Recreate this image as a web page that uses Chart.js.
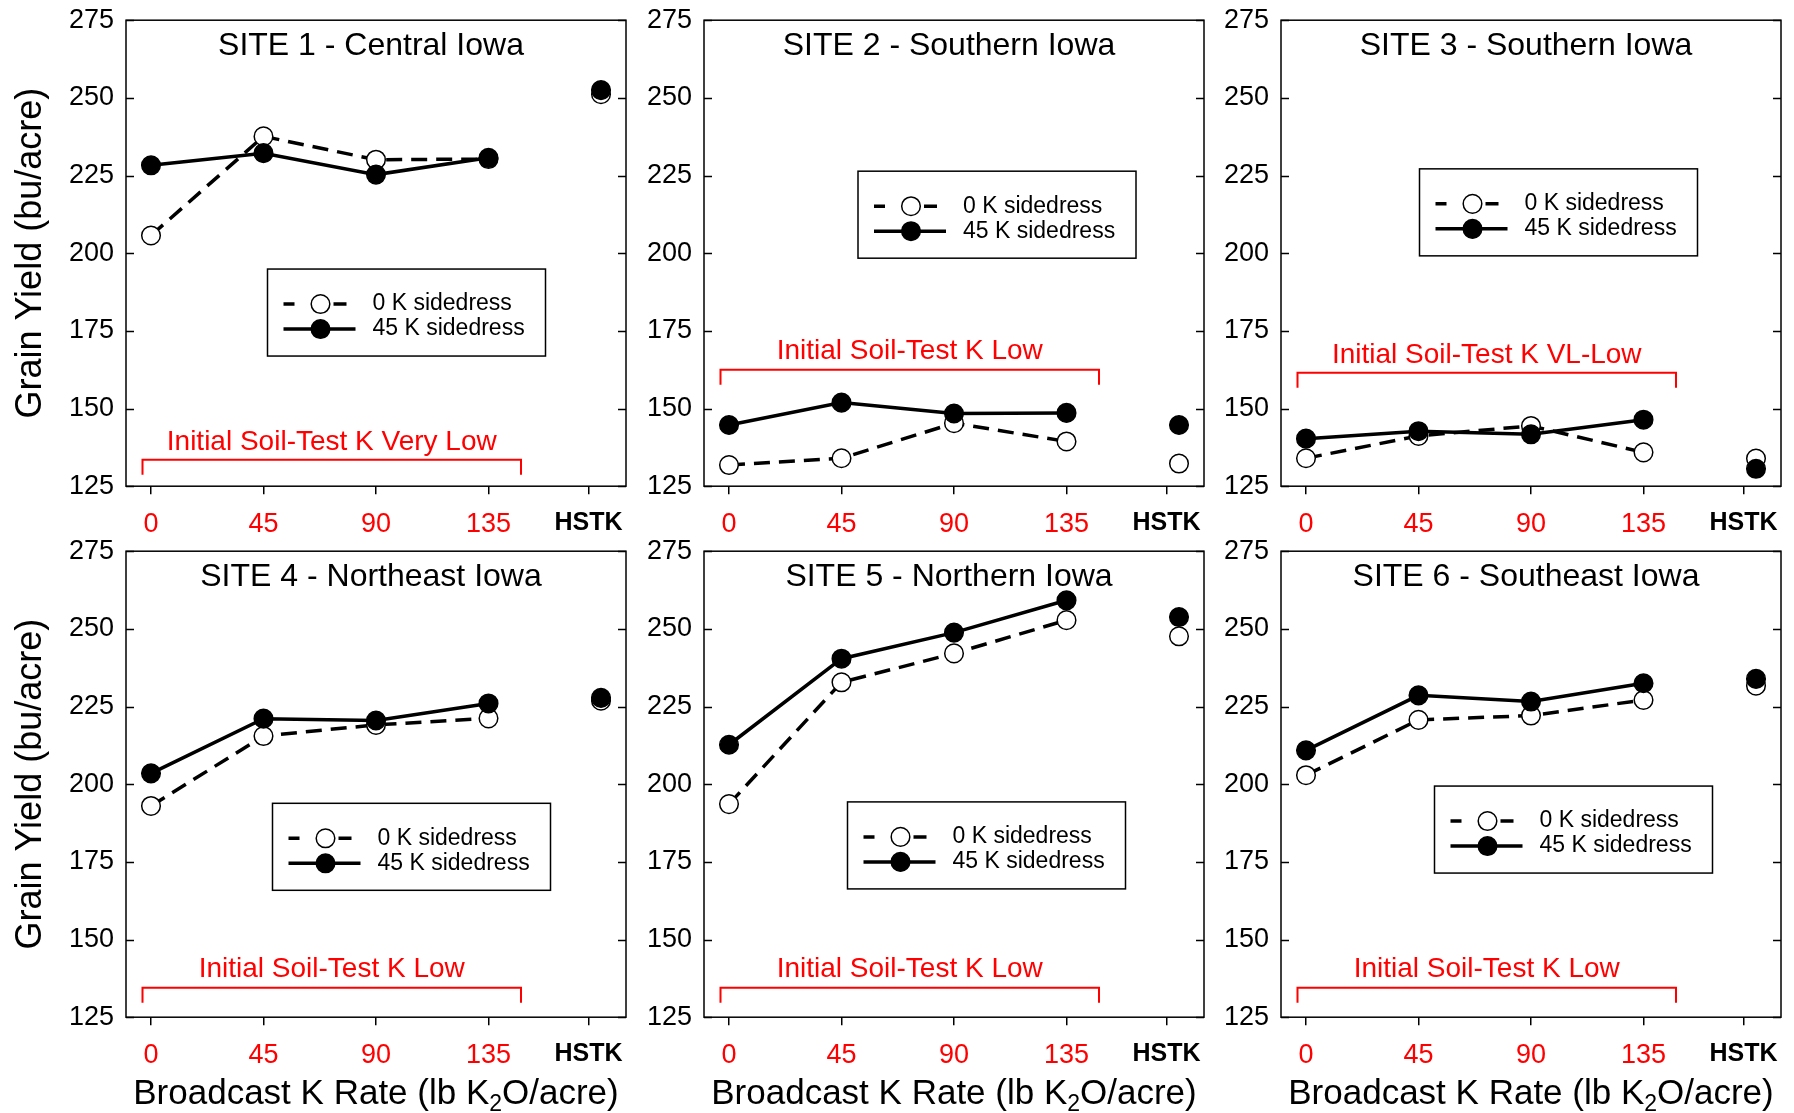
<!DOCTYPE html>
<html>
<head>
<meta charset="utf-8">
<script src="https://cdn.jsdelivr.net/npm/chart.js@4.4.1/dist/chart.umd.min.js"></script>
<style>
  html, body { margin: 0; padding: 0; background: #fff; overflow: hidden; }
  #wrap { position: relative; width: 1794px; height: 1113px; overflow: hidden; }
  canvas { position: absolute; }
</style>
</head>
<body>
<div id="wrap"></div>
<script>
// ---- data ----
const rates = [0, 45, 90, 135];
const hstkX = 180;                       // where the HSTK points sit
const xTickValues = [0, 45, 90, 135, 175];
const xTickLabels = ["0", "45", "90", "135", "HSTK"];
const yTickValues = [125, 150, 175, 200, 225, 250, 275];

const siteTitles = [
  "SITE 1 - Central Iowa", "SITE 2 - Southern Iowa", "SITE 3 - Southern Iowa",
  "SITE 4 - Northeast Iowa", "SITE 5 - Northern Iowa", "SITE 6 - Southeast Iowa"
];
const soilTestLabels = [
  "Initial Soil-Test K Very Low", "Initial Soil-Test K Low", "Initial Soil-Test K VL-Low",
  "Initial Soil-Test K Low", "Initial Soil-Test K Low", "Initial Soil-Test K Low"
];
const bracketLevel = [133.5, 162.5, 161.5, 134.5, 134.5, 134.5];

const site1_0K = [205.7, 237.6, 230.1, 230.3], site1_45K = [228.3, 232.2, 225.3, 230.7];
const site2_0K = [131.8, 134.0, 145.3, 139.4], site2_45K = [144.7, 151.9, 148.4, 148.6];
const site3_0K = [134.0, 141.2, 144.4, 135.9], site3_45K = [140.3, 142.7, 141.7, 146.4];
const site4_0K = [193.0, 215.5, 219.1, 221.2], site4_45K = [203.5, 221.1, 220.5, 226.0];
const site5_0K = [193.6, 232.8, 242.1, 252.8], site5_45K = [212.7, 240.4, 248.8, 259.2];
const site6_0K = [202.9, 220.7, 222.1, 227.1], site6_45K = [210.9, 228.6, 226.6, 232.5];

const hstk_0K  = [251.2, 132.3, 133.9, 226.9, 247.6, 231.7];
const hstk_45K = [252.5, 144.7, 130.6, 227.8, 253.8, 233.9];

const series0K = [site1_0K, site2_0K, site3_0K, site4_0K, site5_0K, site6_0K];
const series45K = [site1_45K, site2_45K, site3_45K, site4_45K, site5_45K, site6_45K];

// ---- layout ----
const FAM = "'Liberation Sans', Arial, Helvetica, sans-serif";
const plotW = 500, plotH = 466;
const colLeft = [126, 704, 1281];
const rowTop = [20, 551];
const legendPos = [[0.283, 0.534], [0.308, 0.324], [0.277, 0.319],
                   [0.293, 0.541], [0.287, 0.538], [0.307, 0.504]];
const MARK_R = 9.3;

Chart.defaults.font.family = FAM;

const panelDecor = {
  id: "panelDecor",
  afterDraw(chart, args, o) {
    const { ctx, chartArea: a, scales: { x, y } } = chart;
    ctx.save();
    ctx.strokeStyle = "#000";
    ctx.lineWidth = 1.5;
    ctx.setLineDash([]);
    ctx.strokeRect(a.left, a.top, a.right - a.left, a.bottom - a.top);

    // inward y ticks on both sides
    ctx.beginPath();
    y.ticks.forEach(t => {
      const py = Math.round(y.getPixelForValue(t.value)) + 0.5;
      ctx.moveTo(a.left, py); ctx.lineTo(a.left + 8, py);
      ctx.moveTo(a.right, py); ctx.lineTo(a.right - 8, py);
    });
    ctx.stroke();

    // site title
    ctx.fillStyle = "#000";
    ctx.font = `32px ${FAM}`;
    ctx.textAlign = "center";
    ctx.textBaseline = "middle";
    ctx.fillText(o.title, (a.left + a.right) / 2 - 5, a.top + 26);

    // red bracket + soil test label
    const bx1 = x.getPixelForValue(-3.4), bx2 = x.getPixelForValue(148);
    const by = y.getPixelForValue(o.bracket);
    ctx.strokeStyle = "#ff0000";
    ctx.lineWidth = 2;
    ctx.beginPath();
    ctx.moveTo(bx1, by + 15); ctx.lineTo(bx1, by); ctx.lineTo(bx2, by); ctx.lineTo(bx2, by + 15);
    ctx.stroke();
    ctx.fillStyle = "#ff0000";
    ctx.font = `28px ${FAM}`;
    ctx.fillText(o.soil, (bx1 + bx2) / 2, by - 18);

    // legend box
    const lx = a.left + o.legend[0] * (a.right - a.left);
    const ly = a.top + o.legend[1] * (a.bottom - a.top);
    ctx.fillStyle = "#fff";
    ctx.fillRect(lx, ly, 278, 87);
    ctx.strokeStyle = "#000";
    ctx.lineWidth = 1.5;
    ctx.strokeRect(lx, ly, 278, 87);
    ctx.lineWidth = 3.5;
    ctx.beginPath();
    ctx.moveTo(lx + 16, ly + 35); ctx.lineTo(lx + 27, ly + 35);
    ctx.moveTo(lx + 66, ly + 35); ctx.lineTo(lx + 79, ly + 35);
    ctx.moveTo(lx + 16, ly + 60); ctx.lineTo(lx + 88, ly + 60);
    ctx.stroke();
    ctx.lineWidth = 1.5;
    ctx.beginPath(); ctx.arc(lx + 53, ly + 35, MARK_R, 0, Math.PI * 2);
    ctx.fillStyle = "#fff"; ctx.fill(); ctx.stroke();
    ctx.beginPath(); ctx.arc(lx + 53, ly + 60, MARK_R, 0, Math.PI * 2);
    ctx.fillStyle = "#000"; ctx.fill(); ctx.stroke();
    ctx.fillStyle = "#000";
    ctx.font = `23px ${FAM}`;
    ctx.textAlign = "left";
    ctx.fillText("0 K sidedress", lx + 105, ly + 35);
    ctx.fillText("45 K sidedress", lx + 105, ly + 60);

    // axis titles
    ctx.textAlign = "center";
    if (o.yTitle) {
      ctx.save();
      ctx.translate(a.left - 95, (a.top + a.bottom) / 2);
      ctx.rotate(-Math.PI / 2);
      ctx.font = `36px ${FAM}`;
      ctx.fillText("Grain Yield (bu/acre)", 0, 0);
      ctx.restore();
    }
    if (o.xTitle) {
      const big = `35px ${FAM}`, small = `23px ${FAM}`;
      const p1 = "Broadcast K Rate (lb K", p2 = "2", p3 = "O/acre)";
      ctx.font = big;
      const w1 = ctx.measureText(p1).width, w3 = ctx.measureText(p3).width;
      ctx.font = small;
      const w2 = ctx.measureText(p2).width;
      let tx = (a.left + a.right) / 2 - (w1 + w2 + w3) / 2;
      const ty = a.bottom + 77;
      ctx.textAlign = "left";
      ctx.font = big; ctx.fillText(p1, tx, ty); tx += w1;
      ctx.font = small; ctx.fillText(p2, tx, ty + 10); tx += w2;
      ctx.font = big; ctx.fillText(p3, tx, ty);
    }
    ctx.restore();
  }
};

const wrap = document.getElementById("wrap");

for (let i = 0; i < 6; i++) {
  const col = i % 3, row = Math.floor(i / 3);
  const cW = 126 + plotW + 20;
  const cH = row === 0 ? 560 : 610;
  const axisH = { value: row === 0 ? 48 : 97 };

  const canvas = document.createElement("canvas");
  canvas.width = cW; canvas.height = cH;
  canvas.style.width = cW + "px";
  canvas.style.height = cH + "px";
  wrap.appendChild(canvas);

  const pts = arr => rates.map((r, k) => ({ x: r, y: arr[k] }));
  const markOpts = { pointRadius: MARK_R, pointHoverRadius: MARK_R, pointBorderWidth: 1.5, pointBorderColor: "#000" };

  const chart = new Chart(canvas, {
    type: "line",
    data: {
      datasets: [
        Object.assign({ data: pts(series45K[i]), borderColor: "#000", borderWidth: 3.5,
          pointBackgroundColor: "#000" }, markOpts),
        Object.assign({ data: [{ x: hstkX, y: hstk_45K[i] }], showLine: false,
          pointBackgroundColor: "#000" }, markOpts),
        Object.assign({ data: pts(series0K[i]), borderColor: "#000", borderWidth: 3.5, borderDash: [16, 9],
          pointBackgroundColor: "#fff" }, markOpts),
        Object.assign({ data: [{ x: hstkX, y: hstk_0K[i] }], showLine: false,
          pointBackgroundColor: "#fff" }, markOpts)
      ]
    },
    options: {
      responsive: false,
      animation: false,
      devicePixelRatio: 1,
      layout: { autoPadding: false, padding: { top: 18, right: 20, left: 0, bottom: 0 } },
      scales: {
        x: {
          type: "linear", min: -10, max: 190,
          afterBuildTicks: s => { s.ticks = xTickValues.map(v => ({ value: v })); },
          afterFit: s => { s.height = axisH.value; },
          grid: { drawOnChartArea: false, drawTicks: true, tickLength: 8, color: "#000", lineWidth: 1.5 },
          border: { display: false },
          ticks: {
            autoSkip: false, maxRotation: 0, padding: 14,
            callback: v => xTickLabels[xTickValues.indexOf(v)],
            color: c => (c.tick && c.tick.value === 175 ? "#000" : "#ff0000"),
            font: c => (c.tick && c.tick.value === 175
              ? { family: FAM, size: 25, weight: "bold" }
              : { family: FAM, size: 27 })
          }
        },
        y: {
          min: 125, max: 275,
          afterBuildTicks: s => { s.ticks = yTickValues.map(v => ({ value: v })); },
          afterFit: s => { s.width = 126; },
          grid: { display: false, drawTicks: false },
          border: { display: false },
          ticks: { padding: 12, color: "#000", font: { family: FAM, size: 27 } }
        }
      },
      plugins: {
        legend: { display: false },
        tooltip: { enabled: false },
        panelDecor: {
          title: siteTitles[i], soil: soilTestLabels[i], bracket: bracketLevel[i],
          legend: legendPos[i], yTitle: col === 0, xTitle: row === 1
        }
      }
    },
    plugins: [panelDecor]
  });

  // make the plot box exactly plotW x plotH, then place the canvas so it lands on the grid
  for (let pass = 0; pass < 3; pass++) {
    const a = chart.chartArea;
    const dh = (a.bottom - a.top) - plotH;
    if (Math.abs(dh) < 0.5) break;
    axisH.value += dh;
    chart.update();
  }
  const a = chart.chartArea;
  canvas.style.left = (colLeft[col] - a.left) + "px";
  canvas.style.top = (rowTop[row] - a.top) + "px";
}
</script>
</body>
</html>
